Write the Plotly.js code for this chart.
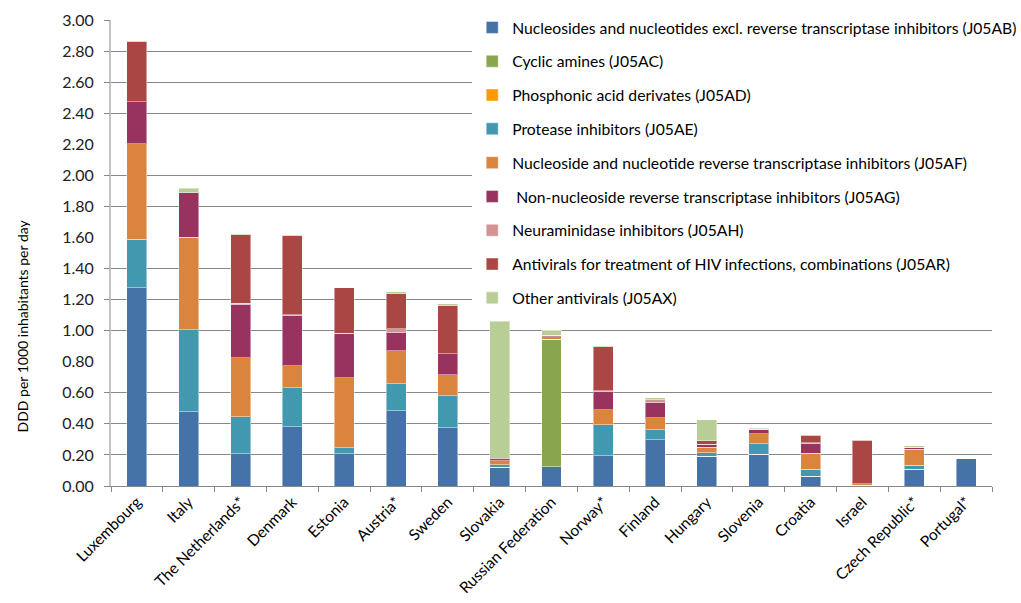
<!DOCTYPE html>
<html>
<head>
<meta charset="utf-8">
<script src="https://cdn.plot.ly/plotly-3.0.1.min.js"></script>
<style>
  html, body { margin: 0; padding: 0; background: #fff; }
  #chart { width: 1021px; height: 603px; }
</style>
</head>
<body>
<div id="chart"></div>
<script>
// Antiviral consumption by ATC group, DDD per 1000 inhabitants per day
const countries = ["Luxembourg", "Italy", "The Netherlands*", "Denmark", "Estonia", "Austria*",
  "Sweden", "Slovakia", "Russian Federation", "Norway*", "Finland", "Hungary", "Slovenia",
  "Croatia", "Israel", "Czech Republic*", "Portugal*"];

const seriesNames = [
  "Nucleosides and nucleotides excl. reverse transcriptase inhibitors (J05AB)",
  "Cyclic amines (J05AC)",
  "Phosphonic acid derivates (J05AD)",
  "Protease inhibitors (J05AE)",
  "Nucleoside and nucleotide reverse transcriptase inhibitors (J05AF)",
  " Non-nucleoside reverse transcriptase inhibitors (J05AG)",
  "Neuraminidase inhibitors (J05AH)",
  "Antivirals for treatment of HIV infections, combinations (J05AR)",
  "Other antivirals (J05AX)"
];

const j05ab = [1.277, 0.479, 0.208, 0.382, 0.208, 0.485, 0.376, 0.120, 0.124, 0.195, 0.298, 0.193, 0.206, 0.064, 0.004, 0.109, 0.174];
const j05ac = [0, 0, 0, 0, 0, 0, 0, 0, 0.822, 0, 0, 0, 0, 0, 0, 0, 0];
const j05ad = [0, 0, 0, 0, 0, 0, 0, 0, 0, 0, 0, 0, 0, 0, 0, 0, 0];
const j05ae = [0.313, 0.528, 0.238, 0.251, 0.039, 0.174, 0.206, 0.016, 0, 0.198, 0.065, 0.022, 0.067, 0.045, 0, 0.026, 0];
const j05af = [0.612, 0.596, 0.380, 0.142, 0.450, 0.212, 0.135, 0.028, 0.015, 0.098, 0.077, 0.036, 0.064, 0.103, 0.010, 0.103, 0.006];
const j05ag = [0.272, 0.286, 0.344, 0.324, 0.288, 0.116, 0.135, 0, 0.011, 0.116, 0.096, 0.019, 0.028, 0.063, 0, 0.013, 0];
const j05ah = [0, 0, 0.005, 0.005, 0, 0.026, 0, 0, 0, 0.006, 0.018, 0, 0, 0.003, 0, 0, 0];
const j05ar = [0.387, 0, 0.442, 0.506, 0.292, 0.225, 0.309, 0.015, 0, 0.282, 0, 0.020, 0, 0.049, 0.282, 0, 0];
const j05ax = [0.004, 0.029, 0.003, 0.005, 0, 0.011, 0.011, 0.882, 0.030, 0.006, 0.013, 0.135, 0.008, 0, 0, 0.007, 0];

const seriesValues = [j05ab, j05ac, j05ad, j05ae, j05af, j05ag, j05ah, j05ar, j05ax];
const seriesColors = ["#4572A7", "#89A54E", "#FF9900", "#4198AF", "#DB843D", "#98325F", "#D49392", "#AA4643", "#B9CD96"];

const yTicks = [0, 0.2, 0.4, 0.6, 0.8, 1.0, 1.2, 1.4, 1.6, 1.8, 2.0, 2.2, 2.4, 2.6, 2.8, 3.0];
const yTickText = yTicks.map(v => v.toFixed(2));
// tick marks and grid lines are only drawn at these levels
const yMarkTicks = [0, 0.2, 0.4, 0.6, 1.0, 1.2, 1.4, 1.8, 2.0, 2.4, 2.6, 2.8, 3.0];
const yGridTicks = [0.2, 0.4, 0.6, 1.0, 1.2, 1.4, 1.8, 2.0, 2.4, 2.6, 2.8];

const FONT = "Lato, 'Open Sans', sans-serif";

const traces = seriesNames.map((name, i) => ({
  type: "bar",
  name: name,
  x: countries,
  y: seriesValues[i],
  legendgroup: "g" + i,
  marker: { color: seriesColors[i], line: { color: "rgba(255,255,255,0.45)", width: 1 } },
  hoverinfo: "name+y"
}));

// empty traces that carry the tick-mark and grid axes
traces.push({ type: "scatter", x: [], y: [], yaxis: "y2", showlegend: false, hoverinfo: "skip" });
traces.push({ type: "scatter", x: [], y: [], yaxis: "y3", showlegend: false, hoverinfo: "skip" });

const layout = {
  width: 1021,
  height: 603,
  margin: { l: 111, r: 29, t: 20, b: 117, autoexpand: false },
  paper_bgcolor: "#ffffff",
  plot_bgcolor: "#ffffff",
  font: { family: FONT, size: 13, color: "#000000" },
  barmode: "stack",
  bargap: 0.615,
  showlegend: true,
  xaxis: {
    type: "category",
    tickangle: -45,
    tickfont: { family: FONT, size: 15.5, color: "#000000" },
    ticks: "outside",
    tickson: "boundaries",
    ticklen: 5,
    tickcolor: "#888888",
    showline: true,
    linecolor: "#888888",
    linewidth: 1,
    showgrid: false,
    zeroline: false
  },
  yaxis: {
    range: [0, 3.0],
    tickvals: yTicks,
    ticktext: yTickText,
    tickfont: { family: FONT, size: 16, color: "#222222" },
    ticks: "outside",
    ticklen: 12,
    tickcolor: "rgba(0,0,0,0)",
    showgrid: false,
    zeroline: false,
    showline: true,
    linecolor: "#c4c4c4",
    linewidth: 2
  },
  yaxis2: {
    overlaying: "y",
    side: "left",
    range: [0, 3.0],
    tickvals: yMarkTicks,
    showticklabels: false,
    ticks: "outside",
    ticklen: 6,
    tickcolor: "#888888",
    showgrid: false,
    zeroline: false,
    showline: false
  },
  yaxis3: {
    overlaying: "y",
    side: "left",
    range: [0, 3.0],
    tickvals: yGridTicks,
    showticklabels: false,
    ticks: "",
    showgrid: true,
    gridcolor: "#888888",
    gridwidth: 1,
    zeroline: false,
    showline: false
  },
  legend: {
    x: 0.41,
    xanchor: "left",
    y: 1.020,
    yanchor: "top",
    bgcolor: "#ffffff",
    borderwidth: 0,
    traceorder: "grouped",
    tracegroupgap: 10.4,
    itemwidth: 30,
    font: { family: FONT, size: 15.7, color: "#000000" }
  },
  annotations: [{
    text: "DDD per 1000 inhabitants per day",
    xref: "paper", yref: "paper",
    x: -0.1007, y: 0.343,
    xanchor: "center", yanchor: "middle",
    textangle: -90,
    showarrow: false,
    font: { family: FONT, size: 14, color: "#000000" }
  }]
};

Plotly.newPlot("chart", traces, layout, { displayModeBar: false, staticPlot: true });
</script>
</body>
</html>
